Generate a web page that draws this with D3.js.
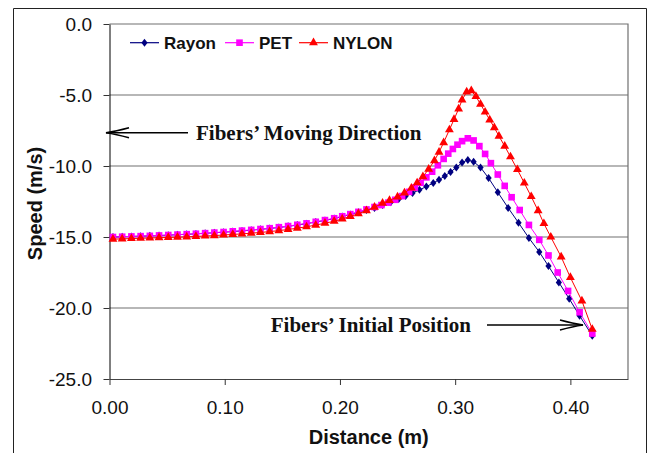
<!DOCTYPE html>
<html><head><meta charset="utf-8">
<script src="https://cdn.jsdelivr.net/npm/d3@7"></script>
<style>html,body{margin:0;padding:0;background:#fff;} svg{display:block;}</style>
</head><body><svg id="c" width="652" height="453"></svg>
<script>
// ---- data ----
const rayonX = [0.003,0.011,0.019,0.027,0.035,0.043,0.051,0.059,0.067,0.075,0.083,0.091,0.099,0.107,0.115,0.123,0.131,0.139,0.147,0.155,0.163,0.171,0.179,0.187,0.195,
  0.202,0.209,0.216,0.223,0.230,0.237,0.244,0.251,0.257,0.263,0.269,0.275,0.281,0.286,0.291,0.296,0.301,0.306,0.311,0.316,
  0.322,0.329,0.337,0.346,0.355,0.364,0.373,0.381,0.390,0.399,0.408,0.419];
const rayonY = [-15.00,-14.98,-14.96,-14.94,-14.92,-14.90,-14.87,-14.84,-14.81,-14.78,-14.74,-14.70,-14.66,-14.62,-14.57,-14.52,-14.46,-14.40,-14.33,-14.25,-14.16,-14.06,-13.95,-13.83,-13.70,
  -13.56,-13.41,-13.25,-13.10,-12.95,-12.75,-12.55,-12.33,-12.12,-11.90,-11.68,-11.45,-11.20,-10.97,-10.70,-10.42,-10.10,-9.75,-9.58,-9.70,
  -10.10,-10.85,-11.85,-12.95,-14.00,-15.07,-16.05,-17.05,-18.20,-19.35,-20.55,-21.95];

const petX = [0.003,0.011,0.019,0.027,0.035,0.043,0.051,0.059,0.067,0.075,0.083,0.091,0.099,0.107,0.115,0.123,0.131,0.139,0.147,0.155,0.163,0.171,0.179,0.187,0.195,
  0.202,0.209,0.216,0.223,0.230,0.236,0.242,0.248,0.254,0.260,0.265,0.270,0.275,0.280,0.285,0.290,0.294,0.298,0.302,0.306,
  0.311,0.316,0.321,0.326,0.331,0.337,0.343,0.349,0.356,0.364,0.373,0.381,0.389,0.398,0.408,0.419];
const petY = [-15.00,-14.98,-14.96,-14.94,-14.92,-14.89,-14.86,-14.83,-14.80,-14.77,-14.73,-14.69,-14.65,-14.60,-14.55,-14.50,-14.44,-14.38,-14.31,-14.23,-14.14,-14.04,-13.93,-13.81,-13.68,
  -13.54,-13.39,-13.23,-13.06,-12.89,-12.75,-12.58,-12.38,-12.12,-11.82,-11.52,-11.18,-10.80,-10.40,-9.95,-9.50,-9.13,-8.80,-8.50,-8.25,
  -8.05,-8.20,-8.60,-9.15,-9.80,-10.60,-11.40,-12.20,-13.10,-14.15,-15.20,-16.30,-17.50,-18.80,-20.30,-21.80];

const nylonX = [0.003,0.011,0.019,0.027,0.035,0.043,0.051,0.059,0.067,0.075,0.083,0.091,0.099,0.107,0.115,0.123,0.131,0.139,0.147,0.155,0.163,0.171,0.179,0.187,0.195,
  0.202,0.209,0.216,0.223,0.230,0.237,0.243,0.250,0.256,0.262,0.267,0.272,0.277,0.282,0.286,0.290,0.295,0.299,0.303,0.306,
  0.310,0.314,0.318,0.322,0.326,0.330,0.334,0.338,0.343,0.348,0.354,0.360,0.366,0.372,0.377,0.383,0.392,0.400,0.410,0.419];
const nylonY = [-15.15,-15.13,-15.11,-15.09,-15.07,-15.05,-15.03,-15.01,-14.99,-14.96,-14.93,-14.90,-14.86,-14.82,-14.78,-14.73,-14.68,-14.62,-14.55,-14.47,-14.38,-14.28,-14.16,-14.03,-13.89,
  -13.73,-13.55,-13.36,-13.15,-12.90,-12.62,-12.42,-12.18,-11.90,-11.55,-11.18,-10.75,-10.22,-9.62,-9.02,-8.35,-7.45,-6.72,-5.98,-5.35,
  -4.78,-4.70,-5.10,-5.65,-6.20,-6.75,-7.30,-7.90,-8.60,-9.35,-10.25,-11.20,-12.15,-13.15,-14.05,-15.00,-16.40,-17.85,-19.50,-21.50];

const seriesNames = ["Rayon", "PET", "NYLON"];
const xTicks = [0, 0.1, 0.2, 0.3, 0.4];
const yTicks = [0, -5, -10, -15, -20, -25];
const gridValues = [-5, -10, -15, -20];
const xTitle = "Distance (m)";
const yTitle = "Speed (m/s)";
const note1 = "Fibers\u2019 Moving Direction";
const note2 = "Fibers\u2019 Initial Position";

// ---- drawing ----
const svg = d3.select("#c");
const L = 109.5, R = 628, T = 24, B = 379;
const x = d3.scaleLinear().domain([0, 0.45]).range([L, R]);
const y = d3.scaleLinear().domain([-25, 0]).range([B, T]);

// outer frame
svg.append("path").attr("d", "M13.5,453 V8.5 H646.5 V453")
  .attr("fill", "none").attr("stroke", "#222").attr("stroke-width", 1);

// gridlines
svg.append("g").selectAll("line").data(gridValues).join("line")
  .attr("x1", L).attr("x2", R).attr("y1", d => y(d)).attr("y2", d => y(d))
  .attr("stroke", "#707070").attr("stroke-width", 1.2);

// plot frame top/right
svg.append("path").attr("d", `M${L},${T} H${R} V${B}`)
  .attr("fill", "none").attr("stroke", "#707070").attr("stroke-width", 1.2);

// axes
const yAxis = svg.append("g").attr("transform", `translate(${L},0)`)
  .call(d3.axisLeft(y).tickValues(yTicks).tickFormat(d => d.toFixed(1)).tickSize(6).tickSizeOuter(0).tickPadding(11.5));
const xAxis = svg.append("g").attr("transform", `translate(0,${B})`)
  .call(d3.axisBottom(x).tickValues(xTicks).tickFormat(d => d.toFixed(2)).tickSize(6).tickSizeOuter(0).tickPadding(16));
[yAxis, xAxis].forEach(g => {
  g.selectAll("text").attr("font-family", "'Liberation Sans', Arial, sans-serif").attr("font-size", 19).attr("fill", "#111");
  g.selectAll("line").attr("stroke", "#333");
});
yAxis.select(".domain").attr("stroke", "#000");
xAxis.select(".domain").attr("stroke", "#444");

// axis titles
svg.append("text").attr("x", (L + R) / 2).attr("y", 444).attr("text-anchor", "middle")
  .attr("font-family", "'Liberation Sans', Arial, sans-serif").attr("font-weight", "bold").attr("font-size", 20)
  .attr("fill", "#111").text(xTitle);
svg.append("text").attr("transform", `translate(42,${(T + B) / 2 + 2}) rotate(-90)`).attr("text-anchor", "middle")
  .attr("font-family", "'Liberation Sans', Arial, sans-serif").attr("font-weight", "bold").attr("font-size", 20)
  .attr("fill", "#111").text(yTitle);

// marker shapes
const diamond = { draw(ctx, size) { const w = 3.1, h = 4; ctx.moveTo(0, -h); ctx.lineTo(w, 0); ctx.lineTo(0, h); ctx.lineTo(-w, 0); ctx.closePath(); } };

// series
const series = [
  {name: seriesNames[0], xs: rayonX, ys: rayonY, color: "#000080", sym: diamond, size: 30},
  {name: seriesNames[1], xs: petX, ys: petY, color: "#FF00FF", sym: d3.symbolSquare, size: 44},
  {name: seriesNames[2], xs: nylonX, ys: nylonY, color: "#FF0000", sym: d3.symbolTriangle, size: 34}
];
const line = d3.line().x(d => x(d[0])).y(d => y(d[1]));
series.forEach(s => {
  const pts = d3.zip(s.xs, s.ys);
  const g = svg.append("g");
  g.append("path").attr("d", line(pts)).attr("fill", "none").attr("stroke", s.color).attr("stroke-width", 1);
  g.selectAll("path.m").data(pts).join("path").attr("class", "m")
    .attr("transform", d => `translate(${x(d[0])},${y(d[1])})`)
    .attr("d", d3.symbol(s.sym, s.size)).attr("fill", s.color);
});

// legend
const legX = [130, 225, 299];
const legY = 42.7;
series.forEach((s, i) => {
  const g = svg.append("g");
  g.append("line").attr("x1", legX[i]).attr("x2", legX[i] + 29).attr("y1", legY).attr("y2", legY)
    .attr("stroke", s.color).attr("stroke-width", 1.2);
  g.append("path").attr("transform", `translate(${legX[i] + 14.5},${legY})`)
    .attr("d", d3.symbol(s.sym, s.size)).attr("fill", s.color);
  g.append("text").attr("x", legX[i] + 34).attr("y", legY + 6)
    .attr("font-family", "'Liberation Sans', Arial, sans-serif").attr("font-weight", "bold").attr("font-size", 17)
    .attr("fill", "#111").text(s.name);
});

// annotations
const serif = "'Liberation Serif', 'Times New Roman', serif";
svg.append("text").attr("x", 196).attr("y", 139.5).attr("font-family", serif).attr("font-weight", "bold")
  .attr("font-size", 21).attr("fill", "#111").text(note1);
svg.append("text").attr("x", 471).attr("y", 331.5).attr("text-anchor", "end").attr("font-family", serif).attr("font-weight", "bold")
  .attr("font-size", 21).attr("fill", "#111").text(note2);
function arrow(x1, x2, yy, dir) {
  svg.append("line").attr("x1", x1).attr("x2", x2).attr("y1", yy).attr("y2", yy)
    .attr("stroke", "#000").attr("stroke-width", 1.6);
  const hx = x2 - dir * 23;
  svg.append("path").attr("d", `M${hx},${yy - 5} Q${x2 - dir * 10},${yy - 1.5} ${x2},${yy} Q${x2 - dir * 10},${yy + 1.5} ${hx},${yy + 5}`)
    .attr("fill", "none").attr("stroke", "#000").attr("stroke-width", 1.6);
}
arrow(188, 106, 132.7, -1);
arrow(487, 583, 325, 1);
</script></body></html>
